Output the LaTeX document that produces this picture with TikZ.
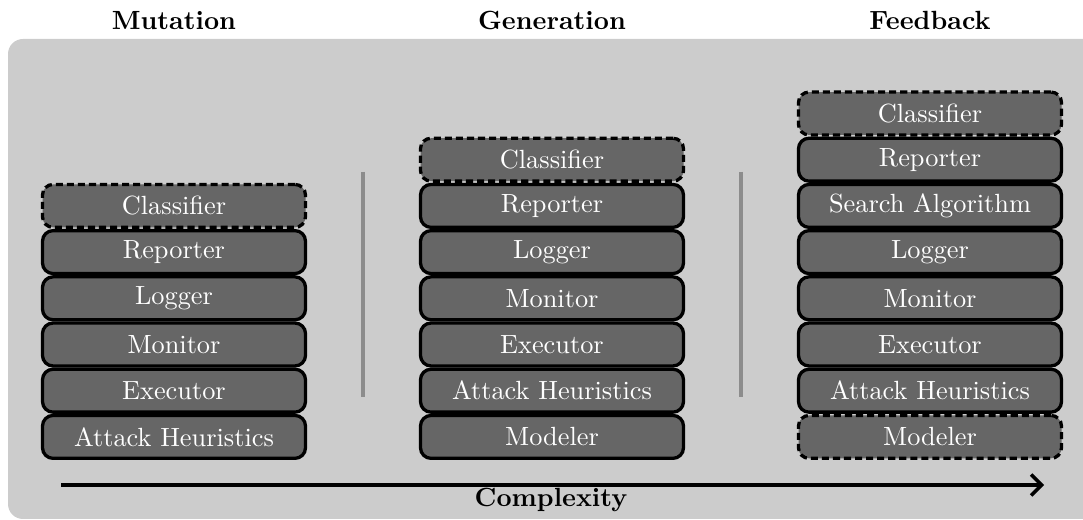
\documentclass[tikz,border=0pt]{standalone}
\usetikzlibrary{arrows.meta}
\begin{document}
\begin{tikzpicture}[x=0.38pt,y=-0.38pt,
  layerbox/.style={draw=black, fill=black!60, text=white, line width=1.25pt,
    rounded corners=4pt, minimum width=263*0.38pt, minimum height=42.9*0.38pt,
    inner sep=0pt, font=\normalsize},
  optbox/.style={layerbox, dash pattern=on 2.7pt off 1.5pt},
  coltitle/.style={font=\bfseries, inner sep=0pt},
  sepline/.style={draw=black!45, line width=1.5pt},
  axisarrow/.style={draw=black, line width=1.4pt, -{Straight Barb[length=4pt,width=8pt,line width=1.3pt]}}
]
\useasboundingbox (0,0) rectangle (1083,520);
\fill[black!20, rounded corners=15*0.38pt] (8,39) rectangle (1120,519);

% titles
\node[coltitle] (tmut) at (174,20.5) {Mutation};
\node[coltitle] (tgen) at (552,20.5) {Generation};
\node[coltitle] (tfeed) at (930,20.5) {Feedback};

% column 1: Mutation
\node[optbox]   (m1) at (174,205.9) {Classifier};
\node[layerbox] (m2) at (174,252.1) {Reporter};
\node[layerbox] (m3) at (174,298.3) {Logger};
\node[layerbox] (m4) at (174,344.5) {Monitor};
\node[layerbox] (m5) at (174,390.7) {Executor};
\node[layerbox] (m6) at (174,436.9) {Attack Heuristics};

% column 2: Generation
\node[optbox]   (g1) at (552,159.7) {Classifier};
\node[layerbox] (g2) at (552,205.9) {Reporter};
\node[layerbox] (g3) at (552,252.1) {Logger};
\node[layerbox] (g4) at (552,298.3) {Monitor};
\node[layerbox] (g5) at (552,344.5) {Executor};
\node[layerbox] (g6) at (552,390.7) {Attack Heuristics};
\node[layerbox] (g7) at (552,436.9) {Modeler};

% column 3: Feedback
\node[optbox]   (f1) at (930,113.5) {Classifier};
\node[optbox]   (f8) at (930,436.9) {Modeler};
\node[layerbox] (f2) at (930,159.7) {Reporter};
\node[layerbox] (f3) at (930,205.9) {Search Algorithm};
\node[layerbox] (f4) at (930,252.1) {Logger};
\node[layerbox] (f5) at (930,298.3) {Monitor};
\node[layerbox] (f6) at (930,344.5) {Executor};
\node[layerbox] (f7) at (930,390.7) {Attack Heuristics};

% separators
\coordinate (s1a) at (363,172);
\coordinate (s1b) at (363,397);
\coordinate (s2a) at (741,172);
\coordinate (s2b) at (741,397);
\draw[sepline] (s1a) -- (s1b);
\draw[sepline] (s2a) -- (s2b);

% complexity axis
\coordinate (ax0) at (61,485);
\coordinate (ax1) at (1044,485);
\draw[axisarrow] (ax0) -- (ax1);
\node[coltitle, anchor=base] (cpx) at (551,507) {Complexity};
\end{tikzpicture}
\end{document}
